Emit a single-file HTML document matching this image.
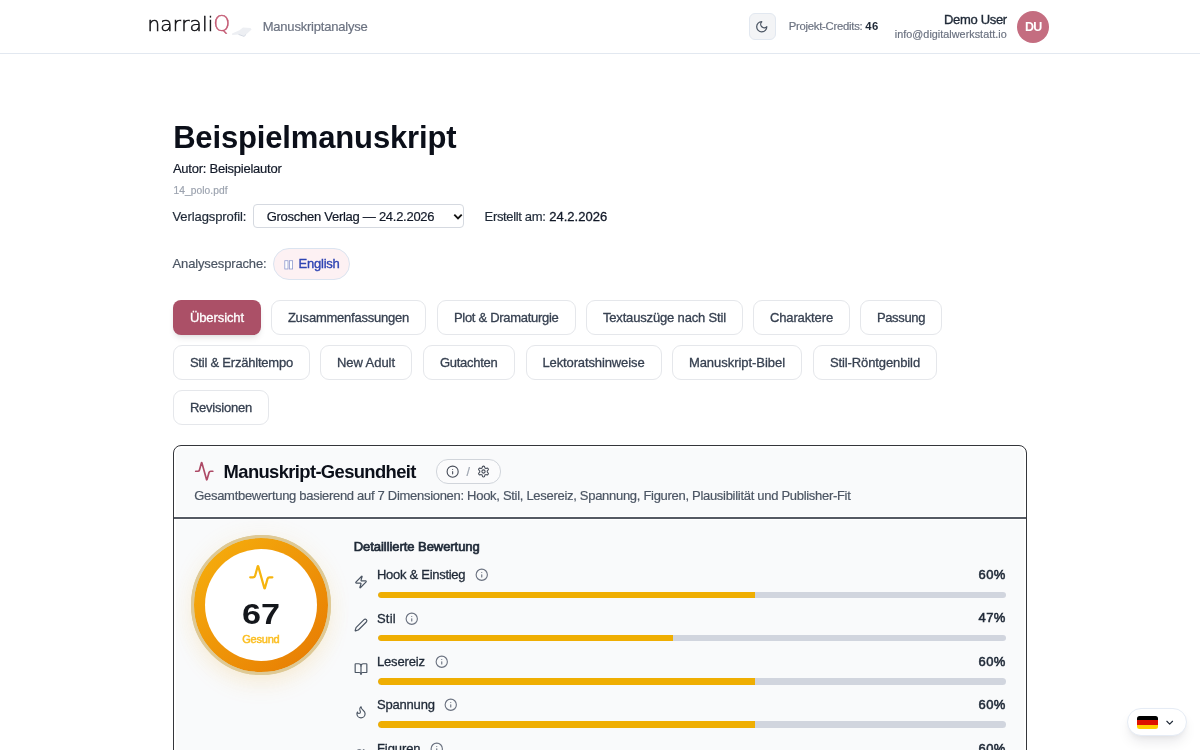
<!DOCTYPE html>
<html lang="de"><head><meta charset="utf-8"><title>Manuskriptanalyse – Beispielmanuskript</title>
<style>
html,body{margin:0;padding:0;background:#fff;}
body{width:1200px;height:750px;position:relative;overflow:hidden;font-family:'Liberation Sans',sans-serif;}
.b{position:absolute;}
.t{position:absolute;margin:0;padding:0;white-space:pre;line-height:1;font-family:'Liberation Sans',sans-serif;font-style:normal;}
svg{position:absolute;overflow:visible}
.logo{position:absolute;white-space:pre;line-height:1;}
</style></head><body>
<header>
<div class="b" style="left:0;top:53px;width:1200px;height:1px;background:#e2e8f0"></div>
<span class="logo" id="logo" style="left:147.4px;top:12.6px;font-size:20px;letter-spacing:.2px;color:#101014;font-family:'DejaVu Sans',sans-serif;font-weight:200;-webkit-text-stroke:.5px #101014">narrali<span style="color:#c25670;-webkit-text-stroke:.4px #c25670;font-size:21.6px;letter-spacing:0;margin-left:-.2px">Q</span></span>
<svg style="left:231px;top:26px" width="22" height="12" viewBox="0 0 22 12" aria-hidden="true"><path d="M1 7.600 L8.500 4.200 L12 1.400 L19.500 2 L20.600 3.400 L13 10.600 L7.500 8.600 L1.200 8.900 Z" fill="#edeff3"/><path d="M7.500 8.400 L13 10.400 L15 8.500" stroke="#d3d8e2" stroke-width=".9" fill="none"/></svg>
<span class="t" id="crumb" style="left:262.72px;top:20.00px;font-size:13px;font-weight:400;color:#6b7280;letter-spacing:-0.211px;-webkit-text-stroke:0.18px #6b7280;">Manuskriptanalyse</span>
<div class="b" role="button" aria-label="Dark mode" style="left:749px;top:13px;width:27px;height:27px;box-sizing:border-box;border:1px solid #e2e8f0;border-radius:6px;background:#f3f4f6"></div>
<svg style="left:755.45px;top:20.25px" width="13.5" height="13.5" viewBox="0 0 24 24" fill="none" stroke="#4b5563" stroke-width="2.2" stroke-linecap="round" stroke-linejoin="round" aria-hidden="true"><path d="M12 3a6 6 0 0 0 9 9 9 9 0 1 1-9-9Z"/></svg>
<span class="t" id="cred" style="left:788.72px;top:21.00px;font-size:11.3px;font-weight:400;color:#6b7280;letter-spacing:-0.257px;-webkit-text-stroke:0.18px #6b7280;">Projekt-Credits:</span>
<b class="t" id="credn" style="left:865.32px;top:21.00px;font-size:11.3px;font-weight:700;color:#1f2937;letter-spacing:0.526px;">46</b>
<span class="t" id="uname" style="left:944.02px;top:13.00px;font-size:13px;font-weight:400;color:#1f2937;letter-spacing:-0.328px;-webkit-text-stroke:0.35px #1f2937;">Demo User</span>
<span class="t" id="umail" style="left:894.85px;top:29.00px;font-size:10.8px;font-weight:400;color:#6b7280;letter-spacing:0.029px;-webkit-text-stroke:0.18px #6b7280;">info@digitalwerkstatt.io</span>
<div class="b" style="left:1017.2px;top:10.6px;width:32px;height:32px;border-radius:50%;background:#c46d80"></div>
<span class="t" id="du" style="left:1024.95px;top:21.00px;font-size:12.5px;font-weight:700;color:#ffffff;letter-spacing:-0.606px;">DU</span>
</header>
<main>
<h1 class="t" id="title" style="left:173.14px;top:122.00px;font-size:31px;font-weight:700;color:#0b0f19;letter-spacing:-0.149px;">Beispielmanuskript</h1>
<p class="t" id="autor" style="left:172.92px;top:162.00px;font-size:13px;font-weight:400;color:#111827;letter-spacing:-0.243px;-webkit-text-stroke:0.18px #111827;">Autor: Beispielautor</p>
<p class="t" id="file" style="left:173.39px;top:186.00px;font-size:10.2px;font-weight:400;color:#9ca3af;letter-spacing:0.096px;-webkit-text-stroke:0.18px #9ca3af;">14_polo.pdf</p>
<label class="t" id="vp" style="left:172.52px;top:210.00px;font-size:13px;font-weight:400;color:#1f2937;letter-spacing:-0.097px;-webkit-text-stroke:0.18px #1f2937;">Verlagsprofil:</label>
<div class="b" role="combobox" style="left:253.3px;top:204.3px;width:211.2px;height:24px;box-sizing:border-box;border:1px solid #d5d9e0;border-radius:4px;background:#fff"></div>
<span class="t" id="sel" style="left:266.72px;top:210.00px;font-size:13px;font-weight:400;color:#111827;letter-spacing:-0.272px;-webkit-text-stroke:0.18px #111827;">Groschen Verlag — 24.2.2026</span>
<svg style="left:452.5px;top:212.5px" width="10" height="8" viewBox="0 0 10 8" aria-hidden="true"><path d="M1.300 1.700 L5 5.400 L8.700 1.700" fill="none" stroke="#111" stroke-width="1.900" stroke-linejoin="miter"/></svg>
<span class="t" id="erst" style="left:484.62px;top:210.00px;font-size:13px;font-weight:400;color:#1f2937;letter-spacing:-0.343px;-webkit-text-stroke:0.18px #1f2937;">Erstellt am:</span>
<span class="t" id="erstd" style="left:549.22px;top:210.00px;font-size:13px;font-weight:400;color:#111827;letter-spacing:0.017px;-webkit-text-stroke:0.3px #111827;">24.2.2026</span>
<span class="t" id="asp" style="left:172.52px;top:257.00px;font-size:13px;font-weight:400;color:#4b5563;letter-spacing:-0.142px;-webkit-text-stroke:0.18px #4b5563;">Analysesprache:</span>
<div class="b" style="left:273px;top:248px;width:77px;height:32px;box-sizing:border-box;border:1px solid #dbe4f0;border-radius:16px;background:#fdf1f3"></div>
<svg style="left:284px;top:259.5px" width="10" height="10" viewBox="0 0 10 10" aria-hidden="true"><rect x=".8" y=".7" width="3.200" height="8.300" fill="#fff" stroke="#8f9bcf" stroke-width=".8"/><rect x="5.400" y=".7" width="3.200" height="8.300" fill="#fff" stroke="#8f9bcf" stroke-width=".8"/></svg>
<span class="t" id="eng" style="left:298.62px;top:257.00px;font-size:13px;font-weight:400;color:#2f44b3;letter-spacing:-0.249px;-webkit-text-stroke:0.35px #2f44b3;">English</span>
<nav role="tablist">
<div class="b" role="tab" aria-selected="true" style="left:173px;top:300px;width:88px;height:35px;border-radius:8px;background:#ab5067;box-shadow:0 4px 6px -1px rgba(0,0,0,.09),0 2px 4px -2px rgba(0,0,0,.08)"><span class="t" id="tab0" style="left:16.92px;top:11.00px;font-size:13px;font-weight:400;color:#ffffff;letter-spacing:-0.091px;-webkit-text-stroke:0.3px #ffffff;">Übersicht</span></div>
<div class="b" role="tab" aria-selected="false" style="left:271px;top:300px;width:155px;height:35px;box-sizing:border-box;border:1px solid #e5e7eb;border-radius:9px;background:#fff"><span class="t" id="tab1" style="left:15.92px;top:10.00px;font-size:13px;font-weight:400;color:#374151;letter-spacing:-0.230px;-webkit-text-stroke:0.3px #374151;">Zusammenfassungen</span></div>
<div class="b" role="tab" aria-selected="false" style="left:437px;top:300px;width:138.5px;height:35px;box-sizing:border-box;border:1px solid #e5e7eb;border-radius:9px;background:#fff"><span class="t" id="tab2" style="left:15.92px;top:10.00px;font-size:13px;font-weight:400;color:#374151;letter-spacing:-0.290px;-webkit-text-stroke:0.3px #374151;">Plot &amp; Dramaturgie</span></div>
<div class="b" role="tab" aria-selected="false" style="left:586px;top:300px;width:157px;height:35px;box-sizing:border-box;border:1px solid #e5e7eb;border-radius:9px;background:#fff"><span class="t" id="tab3" style="left:15.92px;top:10.00px;font-size:13px;font-weight:400;color:#374151;letter-spacing:-0.160px;-webkit-text-stroke:0.3px #374151;">Textauszüge nach Stil</span></div>
<div class="b" role="tab" aria-selected="false" style="left:753px;top:300px;width:97px;height:35px;box-sizing:border-box;border:1px solid #e5e7eb;border-radius:9px;background:#fff"><span class="t" id="tab4" style="left:15.92px;top:10.00px;font-size:13px;font-weight:400;color:#374151;letter-spacing:-0.121px;-webkit-text-stroke:0.3px #374151;">Charaktere</span></div>
<div class="b" role="tab" aria-selected="false" style="left:860px;top:300px;width:82px;height:35px;box-sizing:border-box;border:1px solid #e5e7eb;border-radius:9px;background:#fff"><span class="t" id="tab5" style="left:15.92px;top:10.00px;font-size:13px;font-weight:400;color:#374151;letter-spacing:-0.356px;-webkit-text-stroke:0.3px #374151;">Passung</span></div>
<div class="b" role="tab" aria-selected="false" style="left:173px;top:345px;width:137px;height:35px;box-sizing:border-box;border:1px solid #e5e7eb;border-radius:9px;background:#fff"><span class="t" id="tab6" style="left:15.92px;top:10.00px;font-size:13px;font-weight:400;color:#374151;letter-spacing:-0.213px;-webkit-text-stroke:0.3px #374151;">Stil &amp; Erzähltempo</span></div>
<div class="b" role="tab" aria-selected="false" style="left:320px;top:345px;width:92px;height:35px;box-sizing:border-box;border:1px solid #e5e7eb;border-radius:9px;background:#fff"><span class="t" id="tab7" style="left:15.92px;top:10.00px;font-size:13px;font-weight:400;color:#374151;letter-spacing:-0.050px;-webkit-text-stroke:0.3px #374151;">New Adult</span></div>
<div class="b" role="tab" aria-selected="false" style="left:423px;top:345px;width:91.5px;height:35px;box-sizing:border-box;border:1px solid #e5e7eb;border-radius:9px;background:#fff"><span class="t" id="tab8" style="left:15.92px;top:10.00px;font-size:13px;font-weight:400;color:#374151;letter-spacing:-0.267px;-webkit-text-stroke:0.3px #374151;">Gutachten</span></div>
<div class="b" role="tab" aria-selected="false" style="left:525.5px;top:345px;width:136.0px;height:35px;box-sizing:border-box;border:1px solid #e5e7eb;border-radius:9px;background:#fff"><span class="t" id="tab9" style="left:15.92px;top:10.00px;font-size:13px;font-weight:400;color:#374151;letter-spacing:-0.115px;-webkit-text-stroke:0.3px #374151;">Lektoratshinweise</span></div>
<div class="b" role="tab" aria-selected="false" style="left:672px;top:345px;width:130px;height:35px;box-sizing:border-box;border:1px solid #e5e7eb;border-radius:9px;background:#fff"><span class="t" id="tab10" style="left:15.92px;top:10.00px;font-size:13px;font-weight:400;color:#374151;letter-spacing:-0.046px;-webkit-text-stroke:0.3px #374151;">Manuskript-Bibel</span></div>
<div class="b" role="tab" aria-selected="false" style="left:813px;top:345px;width:124px;height:35px;box-sizing:border-box;border:1px solid #e5e7eb;border-radius:9px;background:#fff"><span class="t" id="tab11" style="left:15.92px;top:10.00px;font-size:13px;font-weight:400;color:#374151;letter-spacing:-0.105px;-webkit-text-stroke:0.3px #374151;">Stil-Röntgenbild</span></div>
<div class="b" role="tab" aria-selected="false" style="left:173px;top:390px;width:96px;height:35px;box-sizing:border-box;border:1px solid #e5e7eb;border-radius:9px;background:#fff"><span class="t" id="tab12" style="left:15.92px;top:10.00px;font-size:13px;font-weight:400;color:#374151;letter-spacing:-0.223px;-webkit-text-stroke:0.3px #374151;">Revisionen</span></div>
</nav>
<section>
<div class="b" style="left:173.2px;top:445px;width:853.6px;height:400px;box-sizing:border-box;border:1px solid #34363b;border-radius:8px;background:#fff"></div>
<div class="b" style="left:176px;top:447.6px;width:848px;height:68.6px;border-radius:5px 5px 0 0;background:#f9fafb"></div>
<div class="b" style="left:174.2px;top:517px;width:851.6px;height:1.6px;background:#555a63"></div>
<div class="b" style="left:176px;top:519.6px;width:848px;height:300px;background:#f9fafb"></div>
<svg style="left:193.75px;top:460.95px" width="20.5" height="20.5" viewBox="0 0 24 24" fill="none" stroke="#ad4a66" stroke-width="2" stroke-linecap="round" stroke-linejoin="round" aria-hidden="true"><path d="M22 12h-2.480a2 2 0 0 0-1.930 1.460l-2.350 8.360a.250.250 0 0 1-.480 0L9.240 2.180a.250.250 0 0 0-.480 0l-2.350 8.360A2 2 0 0 1 4.490 12H2"/></svg>
<h2 class="t" id="ctitle" style="left:223.60px;top:463.00px;font-size:18.4px;font-weight:700;color:#0b0f19;letter-spacing:-0.631px;">Manuskript-Gesundheit</h2>
<div class="b" style="left:436px;top:459px;width:64.5px;height:25px;box-sizing:border-box;border:1px solid #d1d5db;border-radius:12px;background:#fbfbfc"></div>
<svg style="left:446.35px;top:465.05px" width="13.3" height="13.3" viewBox="0 0 24 24" fill="none" stroke="#474d59" stroke-width="2" stroke-linecap="round" stroke-linejoin="round" aria-hidden="true"><circle cx="12" cy="12" r="10"/><path d="M12 16v-4"/><path d="M12 8h.01"/></svg>
<span class="t" id="slash" style="left:466.46px;top:466.00px;font-size:12.4px;font-weight:400;color:#9ca3af;letter-spacing:0.987px;-webkit-text-stroke:0.18px #9ca3af;">/</span>
<svg style="left:476.90px;top:465.20px" width="13" height="13" viewBox="0 0 24 24" fill="none" stroke="#474d59" stroke-width="2" stroke-linecap="round" stroke-linejoin="round" aria-hidden="true"><path d="M12.22 2h-.44a2 2 0 0 0-2 2v.18a2 2 0 0 1-1 1.73l-.43.25a2 2 0 0 1-2 0l-.15-.08a2 2 0 0 0-2.73.73l-.22.38a2 2 0 0 0 .73 2.73l.15.1a2 2 0 0 1 1 1.72v.51a2 2 0 0 1-1 1.74l-.15.09a2 2 0 0 0-.73 2.73l.22.38a2 2 0 0 0 2.73.73l.15-.08a2 2 0 0 1 2 0l.43.25a2 2 0 0 1 1 1.73V20a2 2 0 0 0 2 2h.44a2 2 0 0 0 2-2v-.18a2 2 0 0 1 1-1.73l.43-.25a2 2 0 0 1 2 0l.15.08a2 2 0 0 0 2.73-.73l.22-.39a2 2 0 0 0-.73-2.73l-.15-.08a2 2 0 0 1-1-1.74v-.5a2 2 0 0 1 1-1.74l.15-.09a2 2 0 0 0 .73-2.73l-.22-.38a2 2 0 0 0-2.73-.73l-.15.08a2 2 0 0 1-2 0l-.43-.25a2 2 0 0 1-1-1.73V4a2 2 0 0 0-2-2z"/><circle cx="12" cy="12" r="3"/></svg>
<p class="t" id="csub" style="left:194.22px;top:489.00px;font-size:13px;font-weight:400;color:#4b5563;letter-spacing:-0.295px;-webkit-text-stroke:0.18px #4b5563;">Gesamtbewertung basierend auf 7 Dimensionen: Hook, Stil, Lesereiz, Spannung, Figuren, Plausibilität und Publisher-Fit</p>
<div class="b" style="left:191px;top:535px;width:140px;height:140px;border-radius:50%;box-sizing:border-box;border:3.5px solid #dec995;background:linear-gradient(135deg,#f5ab0c 12%,#e87f04 88%);background-origin:border-box;background-clip:border-box;box-shadow:0 0 22px 2px rgba(245,180,60,.07),0 12px 26px -6px rgba(245,170,40,.16)"></div>
<div class="b" style="left:191px;top:535px;width:140px;height:140px;border-radius:50%;box-sizing:border-box;border:3.5px solid #dec995;"></div>
<div class="b" style="left:204.6px;top:548.6px;width:112.8px;height:112.8px;border-radius:50%;background:#fff"></div>
<svg style="left:247.70px;top:563.50px" width="26.6" height="26.6" viewBox="0 0 24 24" fill="none" stroke="#f6b40e" stroke-width="2" stroke-linecap="round" stroke-linejoin="round" aria-hidden="true"><path d="M22 12h-2.480a2 2 0 0 0-1.930 1.460l-2.350 8.360a.250.250 0 0 1-.480 0L9.240 2.180a.250.250 0 0 0-.480 0l-2.350 8.360A2 2 0 0 1 4.490 12H2"/></svg>
<span class="t" id="g67" style="left:242.39px;top:599.00px;font-size:30.2px;font-weight:700;color:#14171c;transform-origin:0 0;transform:scaleX(1.1323);">67</span>
<span class="t" id="gges" style="left:242.24px;top:634.00px;font-size:11px;font-weight:400;color:#fbbf24;letter-spacing:-0.205px;-webkit-text-stroke:0.5px #fbbf24;">Gesund</span>
<h3 class="t" id="det" style="left:353.72px;top:540.00px;font-size:13px;font-weight:400;color:#1f2937;letter-spacing:-0.054px;-webkit-text-stroke:0.7px #1f2937;">Detaillierte Bewertung</h3>
<svg style="left:354.00px;top:575.00px" width="14" height="14" viewBox="0 0 24 24" fill="none" stroke="#4b5563" stroke-width="2" stroke-linecap="round" stroke-linejoin="round" aria-hidden="true"><path d="M4 14a1 1 0 0 1-.78-1.630l9.900-10.200a.5.5 0 0 1 .86.460l-1.920 6.020A1 1 0 0 0 13 10h7a1 1 0 0 1 .78 1.630l-9.900 10.200a.5.5 0 0 1-.86-.460l1.920-6.020A1 1 0 0 0 11 14z"/></svg>
<span class="t" id="rl0" style="left:377.02px;top:568.00px;font-size:13px;font-weight:400;color:#1f2937;letter-spacing:-0.287px;-webkit-text-stroke:0.3px #1f2937;">Hook &amp; Einstieg</span>
<svg style="left:475.05px;top:568.35px" width="13.5" height="13.5" viewBox="0 0 24 24" fill="none" stroke="#6b7280" stroke-width="2" stroke-linecap="round" stroke-linejoin="round" aria-hidden="true"><circle cx="12" cy="12" r="10"/><path d="M12 16v-4"/><path d="M12 8h.01"/></svg>
<span class="t" id="rp0" style="left:978.52px;top:568.00px;font-size:13px;font-weight:400;color:#1f2937;letter-spacing:0.423px;-webkit-text-stroke:0.55px #1f2937;">60%</span>
<div class="b" role="progressbar" aria-valuenow="60" style="left:377.5px;top:591.50px;width:628.5px;height:6.6px;border-radius:4px;background:#d1d5de;overflow:hidden"><div style="width:60%;height:100%;background:#efae02;border-radius:4px 0 0 4px"></div></div>
<svg style="left:354.00px;top:618.33px" width="14" height="14" viewBox="0 0 24 24" fill="none" stroke="#4b5563" stroke-width="2" stroke-linecap="round" stroke-linejoin="round" aria-hidden="true"><path d="M21.174 6.812a1 1 0 0 0-3.986-3.987L3.842 16.174a2 2 0 0 0-.5.830l-1.321 4.352a.5.5 0 0 0 .623.622l4.353-1.320a2 2 0 0 0 .830-.497z"/></svg>
<span class="t" id="rl1" style="left:377.02px;top:612.00px;font-size:13px;font-weight:400;color:#1f2937;letter-spacing:0.184px;-webkit-text-stroke:0.3px #1f2937;">Stil</span>
<svg style="left:405.05px;top:611.68px" width="13.5" height="13.5" viewBox="0 0 24 24" fill="none" stroke="#6b7280" stroke-width="2" stroke-linecap="round" stroke-linejoin="round" aria-hidden="true"><circle cx="12" cy="12" r="10"/><path d="M12 16v-4"/><path d="M12 8h.01"/></svg>
<span class="t" id="rp1" style="left:978.52px;top:611.00px;font-size:13px;font-weight:400;color:#1f2937;letter-spacing:0.423px;-webkit-text-stroke:0.55px #1f2937;">47%</span>
<div class="b" role="progressbar" aria-valuenow="47" style="left:377.5px;top:634.83px;width:628.5px;height:6.6px;border-radius:4px;background:#d1d5de;overflow:hidden"><div style="width:47%;height:100%;background:#efae02;border-radius:4px 0 0 4px"></div></div>
<svg style="left:354.00px;top:661.66px" width="14" height="14" viewBox="0 0 24 24" fill="none" stroke="#4b5563" stroke-width="2" stroke-linecap="round" stroke-linejoin="round" aria-hidden="true"><path d="M12 7v14"/><path d="M3 18a1 1 0 0 1-1-1V4a1 1 0 0 1 1-1h5a4 4 0 0 1 4 4 4 4 0 0 1 4-4h5a1 1 0 0 1 1 1v13a1 1 0 0 1-1 1h-6a3 3 0 0 0-3 3 3 3 0 0 0-3-3z"/></svg>
<span class="t" id="rl2" style="left:377.02px;top:655.00px;font-size:13px;font-weight:400;color:#1f2937;letter-spacing:-0.180px;-webkit-text-stroke:0.3px #1f2937;">Lesereiz</span>
<svg style="left:434.95px;top:655.01px" width="13.5" height="13.5" viewBox="0 0 24 24" fill="none" stroke="#6b7280" stroke-width="2" stroke-linecap="round" stroke-linejoin="round" aria-hidden="true"><circle cx="12" cy="12" r="10"/><path d="M12 16v-4"/><path d="M12 8h.01"/></svg>
<span class="t" id="rp2" style="left:978.52px;top:655.00px;font-size:13px;font-weight:400;color:#1f2937;letter-spacing:0.423px;-webkit-text-stroke:0.55px #1f2937;">60%</span>
<div class="b" role="progressbar" aria-valuenow="60" style="left:377.5px;top:678.16px;width:628.5px;height:6.6px;border-radius:4px;background:#d1d5de;overflow:hidden"><div style="width:60%;height:100%;background:#efae02;border-radius:4px 0 0 4px"></div></div>
<svg style="left:354.00px;top:704.99px" width="14" height="14" viewBox="0 0 24 24" fill="none" stroke="#4b5563" stroke-width="2" stroke-linecap="round" stroke-linejoin="round" aria-hidden="true"><path d="M8.5 14.5A2.5 2.5 0 0 0 11 12c0-1.380-.5-2-1-3-1.072-2.143-.224-4.054 2-6 .5 2.5 2 4.900 4 6.500 2 1.600 3 3.500 3 5.500a7 7 0 1 1-14 0c0-1.153.433-2.294 1-3a2.500 2.500 0 0 0 2.500 2.500z"/></svg>
<span class="t" id="rl3" style="left:377.02px;top:698.00px;font-size:13px;font-weight:400;color:#1f2937;letter-spacing:-0.198px;-webkit-text-stroke:0.3px #1f2937;">Spannung</span>
<svg style="left:444.05px;top:698.34px" width="13.5" height="13.5" viewBox="0 0 24 24" fill="none" stroke="#6b7280" stroke-width="2" stroke-linecap="round" stroke-linejoin="round" aria-hidden="true"><circle cx="12" cy="12" r="10"/><path d="M12 16v-4"/><path d="M12 8h.01"/></svg>
<span class="t" id="rp3" style="left:978.52px;top:698.00px;font-size:13px;font-weight:400;color:#1f2937;letter-spacing:0.423px;-webkit-text-stroke:0.55px #1f2937;">60%</span>
<div class="b" role="progressbar" aria-valuenow="60" style="left:377.5px;top:721.49px;width:628.5px;height:6.6px;border-radius:4px;background:#d1d5de;overflow:hidden"><div style="width:60%;height:100%;background:#efae02;border-radius:4px 0 0 4px"></div></div>
<svg style="left:354.00px;top:748.32px" width="14" height="14" viewBox="0 0 24 24" fill="none" stroke="#4b5563" stroke-width="2" stroke-linecap="round" stroke-linejoin="round" aria-hidden="true"><path d="M16 21v-2a4 4 0 0 0-4-4H6a4 4 0 0 0-4 4v2"/><circle cx="9" cy="7" r="4"/><path d="M22 21v-2a4 4 0 0 0-3-3.870"/><path d="M16 3.130a4 4 0 0 1 0 7.750"/></svg>
<span class="t" id="rl4" style="left:377.02px;top:742.00px;font-size:13px;font-weight:400;color:#1f2937;letter-spacing:-0.083px;-webkit-text-stroke:0.3px #1f2937;">Figuren</span>
<svg style="left:429.95px;top:741.67px" width="13.5" height="13.5" viewBox="0 0 24 24" fill="none" stroke="#6b7280" stroke-width="2" stroke-linecap="round" stroke-linejoin="round" aria-hidden="true"><circle cx="12" cy="12" r="10"/><path d="M12 16v-4"/><path d="M12 8h.01"/></svg>
<span class="t" id="rp4" style="left:978.52px;top:742.00px;font-size:13px;font-weight:400;color:#1f2937;letter-spacing:0.423px;-webkit-text-stroke:0.55px #1f2937;">60%</span>
</section>
</main>
<aside>
<div class="b" style="left:1127px;top:708px;width:60px;height:28px;box-sizing:border-box;border:1px solid #e6ecf5;border-radius:14px;background:#fff;box-shadow:0 8px 14px -3px rgba(15,23,42,.10),0 3px 6px -3px rgba(15,23,42,.08)"></div>
<div class="b" role="img" aria-label="Deutsch" style="left:1137.3px;top:715.7px;width:20.7px;height:13.6px;border-radius:2.5px;overflow:hidden;background:linear-gradient(#000 0 33.3%,#dd1100 33.3% 66.6%,#ffce00 66.6% 100%)"></div>
<svg style="left:1164.20px;top:716.70px" width="11.4" height="11.4" viewBox="0 0 24 24" fill="none" stroke="#1f2937" stroke-width="2.4" stroke-linecap="round" stroke-linejoin="round" aria-hidden="true"><path d="m6 9 6 6 6-6"/></svg>
</aside>
</body></html>
